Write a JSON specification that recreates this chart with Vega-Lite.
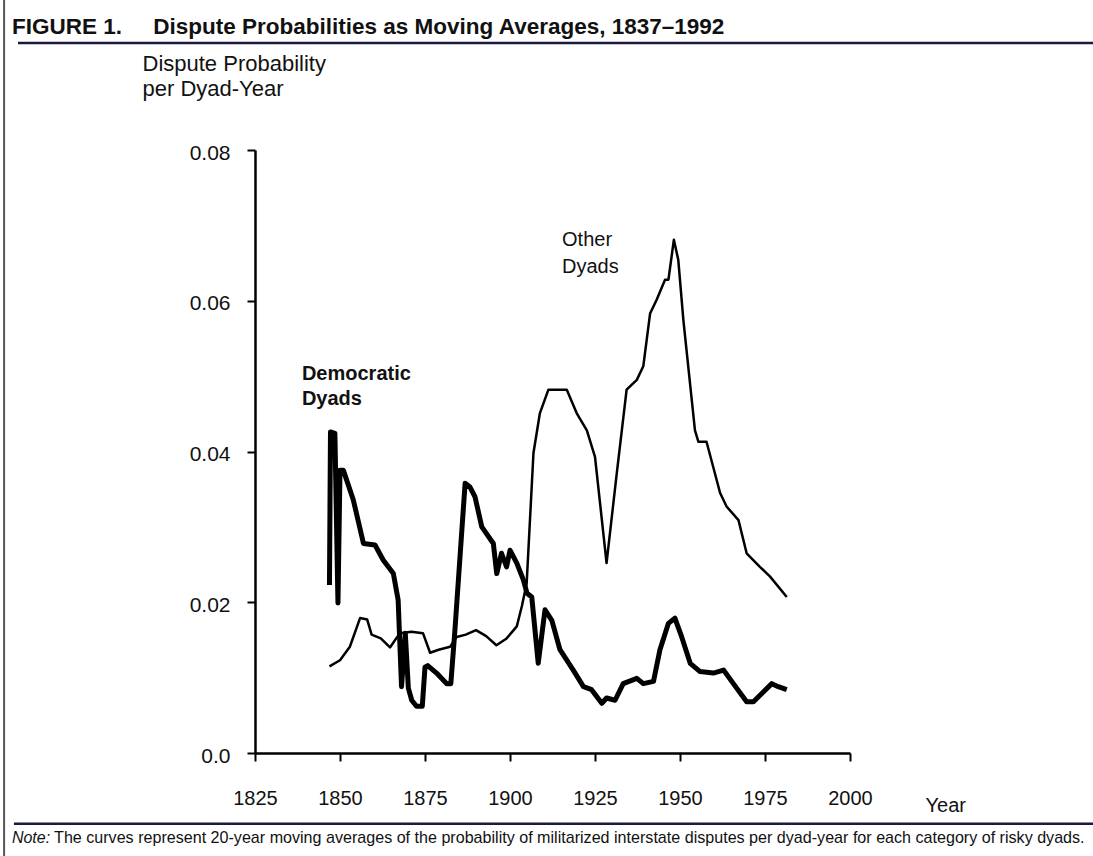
{
  "$schema": "https://vega.github.io/schema/vega-lite/v6.json",
  "width": 595,
  "height": 603,
  "autosize": {"type": "none"},
  "padding": {"left": 255, "top": 150, "right": 243, "bottom": 103},
  "background": "white",
  "config": {"view": {"stroke": null}, "font": "Liberation Sans"},
  "title": {
    "text": "FIGURE 1.\u00a0\u00a0\u00a0\u00a0\u00a0Dispute Probabilities as Moving Averages, 1837–1992",
    "anchor": "start", "frame": "group", "orient": "top",
    "dx": -243, "dy": 57, "offset": 0, "baseline": "alphabetic",
    "fontSize": 22.5, "fontWeight": "bold", "font": "Liberation Sans", "color": "#111"
  },
  "data": {"values": [
    {"series": "Other Dyads", "year": 1846.9, "probability": 0.0115},
    {"series": "Other Dyads", "year": 1850.0, "probability": 0.0123},
    {"series": "Other Dyads", "year": 1852.9, "probability": 0.0141},
    {"series": "Other Dyads", "year": 1855.9, "probability": 0.0179},
    {"series": "Other Dyads", "year": 1858.0, "probability": 0.0177},
    {"series": "Other Dyads", "year": 1859.3, "probability": 0.0157},
    {"series": "Other Dyads", "year": 1862.0, "probability": 0.0152},
    {"series": "Other Dyads", "year": 1864.7, "probability": 0.0140},
    {"series": "Other Dyads", "year": 1867.6, "probability": 0.0159},
    {"series": "Other Dyads", "year": 1871.0, "probability": 0.0161},
    {"series": "Other Dyads", "year": 1874.4, "probability": 0.0159},
    {"series": "Other Dyads", "year": 1876.5, "probability": 0.0133},
    {"series": "Other Dyads", "year": 1879.0, "probability": 0.0137},
    {"series": "Other Dyads", "year": 1882.4, "probability": 0.0141},
    {"series": "Other Dyads", "year": 1884.3, "probability": 0.0154},
    {"series": "Other Dyads", "year": 1887.0, "probability": 0.0157},
    {"series": "Other Dyads", "year": 1890.0, "probability": 0.0163},
    {"series": "Other Dyads", "year": 1893.0, "probability": 0.0155},
    {"series": "Other Dyads", "year": 1896.0, "probability": 0.0143},
    {"series": "Other Dyads", "year": 1899.0, "probability": 0.0152},
    {"series": "Other Dyads", "year": 1902.0, "probability": 0.0168},
    {"series": "Other Dyads", "year": 1903.5, "probability": 0.0195},
    {"series": "Other Dyads", "year": 1904.9, "probability": 0.0225},
    {"series": "Other Dyads", "year": 1906.9, "probability": 0.0398},
    {"series": "Other Dyads", "year": 1908.8, "probability": 0.0451},
    {"series": "Other Dyads", "year": 1911.3, "probability": 0.0482},
    {"series": "Other Dyads", "year": 1916.7, "probability": 0.0482},
    {"series": "Other Dyads", "year": 1919.6, "probability": 0.0451},
    {"series": "Other Dyads", "year": 1922.6, "probability": 0.0428},
    {"series": "Other Dyads", "year": 1925.0, "probability": 0.0393},
    {"series": "Other Dyads", "year": 1928.4, "probability": 0.0252},
    {"series": "Other Dyads", "year": 1931.4, "probability": 0.0371},
    {"series": "Other Dyads", "year": 1934.3, "probability": 0.0482},
    {"series": "Other Dyads", "year": 1937.3, "probability": 0.0495},
    {"series": "Other Dyads", "year": 1939.2, "probability": 0.0513},
    {"series": "Other Dyads", "year": 1941.2, "probability": 0.0583},
    {"series": "Other Dyads", "year": 1943.1, "probability": 0.0601},
    {"series": "Other Dyads", "year": 1945.6, "probability": 0.0628},
    {"series": "Other Dyads", "year": 1946.6, "probability": 0.0628},
    {"series": "Other Dyads", "year": 1948.2, "probability": 0.0681},
    {"series": "Other Dyads", "year": 1949.5, "probability": 0.0654},
    {"series": "Other Dyads", "year": 1951.0, "probability": 0.0574},
    {"series": "Other Dyads", "year": 1954.4, "probability": 0.0428},
    {"series": "Other Dyads", "year": 1955.4, "probability": 0.0413},
    {"series": "Other Dyads", "year": 1957.8, "probability": 0.0413},
    {"series": "Other Dyads", "year": 1961.8, "probability": 0.0345},
    {"series": "Other Dyads", "year": 1963.7, "probability": 0.0327},
    {"series": "Other Dyads", "year": 1967.2, "probability": 0.0309},
    {"series": "Other Dyads", "year": 1969.6, "probability": 0.0265},
    {"series": "Other Dyads", "year": 1973.5, "probability": 0.0247},
    {"series": "Other Dyads", "year": 1976.5, "probability": 0.0234},
    {"series": "Other Dyads", "year": 1981.4, "probability": 0.0207},
    {"series": "Democratic Dyads", "year": 1846.9, "probability": 0.0223},
    {"series": "Democratic Dyads", "year": 1847.2, "probability": 0.0426},
    {"series": "Democratic Dyads", "year": 1848.5, "probability": 0.0424},
    {"series": "Democratic Dyads", "year": 1849.4, "probability": 0.0199},
    {"series": "Democratic Dyads", "year": 1850.0, "probability": 0.0375},
    {"series": "Democratic Dyads", "year": 1851.0, "probability": 0.0375},
    {"series": "Democratic Dyads", "year": 1853.9, "probability": 0.0336},
    {"series": "Democratic Dyads", "year": 1856.9, "probability": 0.0278},
    {"series": "Democratic Dyads", "year": 1860.3, "probability": 0.0276},
    {"series": "Democratic Dyads", "year": 1862.7, "probability": 0.0256},
    {"series": "Democratic Dyads", "year": 1865.7, "probability": 0.0238},
    {"series": "Democratic Dyads", "year": 1867.1, "probability": 0.0203},
    {"series": "Democratic Dyads", "year": 1868.1, "probability": 0.0088},
    {"series": "Democratic Dyads", "year": 1869.2, "probability": 0.0159},
    {"series": "Democratic Dyads", "year": 1870.1, "probability": 0.0086},
    {"series": "Democratic Dyads", "year": 1871.1, "probability": 0.0070},
    {"series": "Democratic Dyads", "year": 1872.5, "probability": 0.0062},
    {"series": "Democratic Dyads", "year": 1874.2, "probability": 0.0062},
    {"series": "Democratic Dyads", "year": 1875.0, "probability": 0.0114},
    {"series": "Democratic Dyads", "year": 1875.8, "probability": 0.0116},
    {"series": "Democratic Dyads", "year": 1878.4, "probability": 0.0106},
    {"series": "Democratic Dyads", "year": 1881.4, "probability": 0.0092},
    {"series": "Democratic Dyads", "year": 1882.6, "probability": 0.0092},
    {"series": "Democratic Dyads", "year": 1883.8, "probability": 0.0163},
    {"series": "Democratic Dyads", "year": 1886.8, "probability": 0.0358},
    {"series": "Democratic Dyads", "year": 1888.2, "probability": 0.0353},
    {"series": "Democratic Dyads", "year": 1889.7, "probability": 0.0340},
    {"series": "Democratic Dyads", "year": 1891.7, "probability": 0.0300},
    {"series": "Democratic Dyads", "year": 1895.1, "probability": 0.0278},
    {"series": "Democratic Dyads", "year": 1896.1, "probability": 0.0238},
    {"series": "Democratic Dyads", "year": 1897.5, "probability": 0.0265},
    {"series": "Democratic Dyads", "year": 1899.0, "probability": 0.0247},
    {"series": "Democratic Dyads", "year": 1900.0, "probability": 0.0269},
    {"series": "Democratic Dyads", "year": 1902.0, "probability": 0.0252},
    {"series": "Democratic Dyads", "year": 1903.9, "probability": 0.0230},
    {"series": "Democratic Dyads", "year": 1905.0, "probability": 0.0212},
    {"series": "Democratic Dyads", "year": 1906.4, "probability": 0.0207},
    {"series": "Democratic Dyads", "year": 1908.3, "probability": 0.0119},
    {"series": "Democratic Dyads", "year": 1910.3, "probability": 0.0190},
    {"series": "Democratic Dyads", "year": 1912.3, "probability": 0.0176},
    {"series": "Democratic Dyads", "year": 1914.7, "probability": 0.0137},
    {"series": "Democratic Dyads", "year": 1918.6, "probability": 0.0110},
    {"series": "Democratic Dyads", "year": 1921.6, "probability": 0.0088},
    {"series": "Democratic Dyads", "year": 1924.0, "probability": 0.0084},
    {"series": "Democratic Dyads", "year": 1927.0, "probability": 0.0066},
    {"series": "Democratic Dyads", "year": 1928.4, "probability": 0.0073},
    {"series": "Democratic Dyads", "year": 1930.9, "probability": 0.0070},
    {"series": "Democratic Dyads", "year": 1933.3, "probability": 0.0092},
    {"series": "Democratic Dyads", "year": 1937.3, "probability": 0.0099},
    {"series": "Democratic Dyads", "year": 1939.2, "probability": 0.0092},
    {"series": "Democratic Dyads", "year": 1942.2, "probability": 0.0095},
    {"series": "Democratic Dyads", "year": 1944.1, "probability": 0.0137},
    {"series": "Democratic Dyads", "year": 1946.6, "probability": 0.0172},
    {"series": "Democratic Dyads", "year": 1948.5, "probability": 0.0179},
    {"series": "Democratic Dyads", "year": 1950.5, "probability": 0.0154},
    {"series": "Democratic Dyads", "year": 1953.0, "probability": 0.0119},
    {"series": "Democratic Dyads", "year": 1955.9, "probability": 0.0108},
    {"series": "Democratic Dyads", "year": 1959.8, "probability": 0.0106},
    {"series": "Democratic Dyads", "year": 1962.8, "probability": 0.0110},
    {"series": "Democratic Dyads", "year": 1965.7, "probability": 0.0092},
    {"series": "Democratic Dyads", "year": 1969.6, "probability": 0.0068},
    {"series": "Democratic Dyads", "year": 1971.6, "probability": 0.0068},
    {"series": "Democratic Dyads", "year": 1974.5, "probability": 0.0081},
    {"series": "Democratic Dyads", "year": 1977.0, "probability": 0.0092},
    {"series": "Democratic Dyads", "year": 1978.9, "probability": 0.0088},
    {"series": "Democratic Dyads", "year": 1981.4, "probability": 0.0084}
  ]},
  "layer": [
    {
      "mark": {"type": "line", "color": "#000", "strokeJoin": "round", "strokeCap": "butt"},
      "encoding": {
        "x": {
          "field": "year", "type": "quantitative",
          "scale": {"domain": [1825, 2000], "nice": false, "zero": false},
          "axis": {
            "values": [1825, 1850, 1875, 1900, 1925, 1950, 1975, 2000], "format": "d",
            "title": "Year", "titleX": 670, "titleY": 58, "titleAlign": "left", "titleBaseline": "alphabetic",
            "titleFontSize": 20, "titleFontWeight": "normal", "titleFont": "Liberation Sans", "titleColor": "#111",
            "labelFontSize": 20, "labelFont": "Liberation Sans", "labelColor": "#111", "labelBaseline": "alphabetic",
            "labelPadding": 43, "labelFlush": false, "labelOverlap": false,
            "tickSize": 8, "tickWidth": 2, "tickColor": "#000", "domainWidth": 2.5, "domainColor": "#000", "grid": false
          }
        },
        "y": {
          "field": "probability", "type": "quantitative",
          "scale": {"domain": [0, 0.08], "nice": false},
          "axis": {
            "values": [0, 0.02, 0.04, 0.06, 0.08],
            "labelExpr": "datum.value === 0 ? '0.0' : format(datum.value, '.2f')",
            "title": ["Dispute Probability", "per Dyad-Year"], "titleAngle": 0, "titleAlign": "left",
            "titleBaseline": "alphabetic", "titleX": -113, "titleY": -80, "titleLineHeight": 25,
            "titleFontSize": 22, "titleFontWeight": "normal", "titleFont": "Liberation Sans", "titleColor": "#111",
            "labelFontSize": 21, "labelFont": "Liberation Sans", "labelColor": "#111", "labelPadding": 17,
            "labelBaseline": "middle", "labelOffset": 3,
            "tickSize": 8, "tickWidth": 2, "tickColor": "#000", "domainWidth": 2.5, "domainColor": "#000", "grid": false
          }
        },
        "strokeWidth": {
          "field": "series", "type": "nominal",
          "scale": {"domain": ["Democratic Dyads", "Other Dyads"], "range": [5, 2.5]},
          "legend": null
        }
      }
    },
    {
      "data": {"values": [{}]},
      "mark": {"type": "text", "align": "left", "baseline": "alphabetic", "fontSize": 20, "fontWeight": "bold", "lineBreak": "\n", "lineHeight": 25, "color": "#111", "font": "Liberation Sans"},
      "encoding": {
        "x": {"datum": 1838.8, "type": "quantitative"},
        "y": {"datum": 0.0495, "type": "quantitative"},
        "text": {"value": "Democratic\nDyads"}
      }
    },
    {
      "data": {"values": [{}]},
      "mark": {"type": "text", "align": "left", "baseline": "alphabetic", "fontSize": 20, "fontWeight": "normal", "lineBreak": "\n", "lineHeight": 27, "color": "#111", "font": "Liberation Sans"},
      "encoding": {
        "x": {"datum": 1915.3, "type": "quantitative"},
        "y": {"datum": 0.0672, "type": "quantitative"},
        "text": {"value": "Other\nDyads"}
      }
    },
    {
      "data": {"values": [{}]},
      "mark": {"type": "rule", "color": "#1a1a40", "strokeWidth": 2.5},
      "encoding": {
        "x": {"datum": 1755.3, "type": "quantitative"},
        "x2": {"datum": 2071.5},
        "y": {"datum": 0.0942, "type": "quantitative"}
      }
    },
    {
      "data": {"values": [{}]},
      "mark": {"type": "rule", "color": "#1a1a40", "strokeWidth": 2.5},
      "encoding": {
        "x": {"datum": 1754.1, "type": "quantitative"},
        "x2": {"datum": 2071.5},
        "y": {"datum": -0.0094, "type": "quantitative"}
      }
    },
    {
      "data": {"values": [{}]},
      "mark": {"type": "rule", "color": "#555", "strokeWidth": 2},
      "encoding": {
        "x": {"datum": 1751.2, "type": "quantitative"},
        "y": {"datum": 0.0999, "type": "quantitative"},
        "y2": {"datum": -0.0137}
      }
    },
    {
      "data": {"values": [{}]},
      "mark": {"type": "text", "align": "left", "baseline": "alphabetic", "fontSize": 16, "fontStyle": "italic", "color": "#111", "font": "Liberation Sans"},
      "encoding": {
        "x": {"datum": 1753.5, "type": "quantitative"},
        "y": {"datum": -0.0119, "type": "quantitative"},
        "text": {"value": "Note:"}
      }
    },
    {
      "data": {"values": [{}]},
      "mark": {"type": "text", "align": "left", "baseline": "alphabetic", "fontSize": 16.1, "color": "#111", "font": "Liberation Sans"},
      "encoding": {
        "x": {"datum": 1765.9, "type": "quantitative"},
        "y": {"datum": -0.0119, "type": "quantitative"},
        "text": {"value": "The curves represent 20-year moving averages of the probability of militarized interstate disputes per dyad-year for each category of risky dyads."}
      }
    }
  ]
}
